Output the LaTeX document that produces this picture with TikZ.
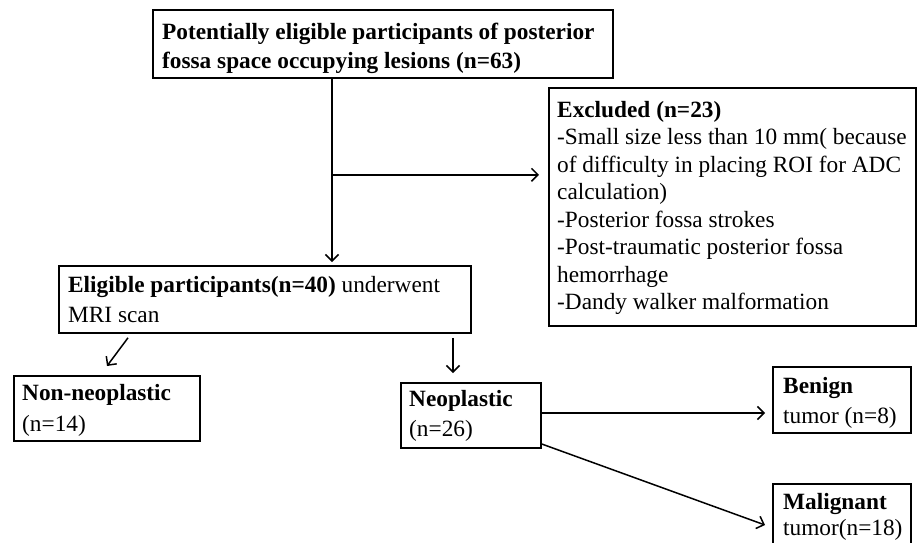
\documentclass[tikz,border=0pt]{standalone}
\usepackage{fontspec}
\setmainfont{Liberation Serif}
\usetikzlibrary{arrows.meta,calc}
\begin{document}
\begin{tikzpicture}[x=1pt,y=-1pt,
  box/.style={draw, line width=1.8pt, anchor=north west, inner sep=0pt},
  txt/.style={anchor=west, align=left, inner sep=0pt, font=\fontsize{23.3}{30}\selectfont},
  arr/.style={line width=1.5pt, -{Straight Barb[length=6.5pt,width=13pt]}}]
\useasboundingbox (0,0) rectangle (917,542);
\clip (0,0) rectangle (917,542);
% boxes
\node[box, minimum width=460pt, minimum height=68pt] (top) at (152,9) {};
\node[box, minimum width=367pt, minimum height=238pt] (excl) at (548,87) {};
\node[box, minimum width=412pt, minimum height=67pt] (elig) at (58,265) {};
\node[box, minimum width=186pt, minimum height=65pt] (non) at (13,375) {};
\node[box, minimum width=140pt, minimum height=65pt] (neo) at (400,382) {};
\node[box, minimum width=138pt, minimum height=66pt] (ben) at (772,366) {};
\node[box, minimum width=138pt, minimum height=66pt] (mal) at (772,483) {};
% texts
\node[txt, font=\fontsize{23.3}{29}\selectfont\bfseries] (topt) at ([xshift=10pt,yshift=-4pt]top.west)
  {Potentially eligible participants of posterior\\fossa space occupying lesions (n=63)};
\node[txt, font=\fontsize{23.3}{27.5}\selectfont] (exclt) at ([xshift=9pt,yshift=-1pt]excl.west)
  {\textbf{Excluded (n=23)}\\-Small size less than 10 mm( because\\of difficulty in placing ROI for ADC\\calculation)\\-Posterior fossa strokes\\-Post-traumatic posterior fossa\\hemorrhage\\-Dandy walker malformation};
\node[txt] (eligt) at ([xshift=10pt]elig.west)
  {\textbf{Eligible participants(n=40)} underwent\\MRI scan};
\node[txt, font=\fontsize{23.3}{31}\selectfont] (nont) at ([xshift=9pt,yshift=-2pt]non.west) {\textbf{Non-neoplastic}\\(n=14)};
\node[txt] (neot) at ([xshift=9pt]neo.west) {\textbf{Neoplastic}\\(n=26)};
\node[txt] (bent) at ([xshift=11pt,yshift=-3pt]ben.west) {\textbf{Benign}\\tumor (n=8)};
\node[txt, font=\fontsize{23.3}{26}\selectfont] (malt) at ([xshift=11pt]mal.west) {\textbf{Malignant}\\tumor(n=18)};
% connectors
\coordinate (c1) at ($(top.south west)+(180,0)$);
\coordinate (c2) at ($(top.south west)+(180,96)$);
\draw[arr, shorten >=3pt] (c1) -- (c1 |- elig.north);
\draw[arr, shorten >=9pt] (c2) -- (c2 -| excl.west);
\draw[arr] ($(elig.south west)+(70,4)$) -- ($(non.north west)+(94,-9)$);
\draw[arr] ($(elig.south west)+(395,4)$) -- ($(neo.north west)+(53,-9)$);
\draw[arr] ($(neo.north east)+(0,31)$) -- ($(ben.north west)+(-7,47)$);
\draw[arr] ($(neo.north east)+(0,62)$) -- ($(mal.north west)+(-7,42)$);
\end{tikzpicture}
\end{document}
